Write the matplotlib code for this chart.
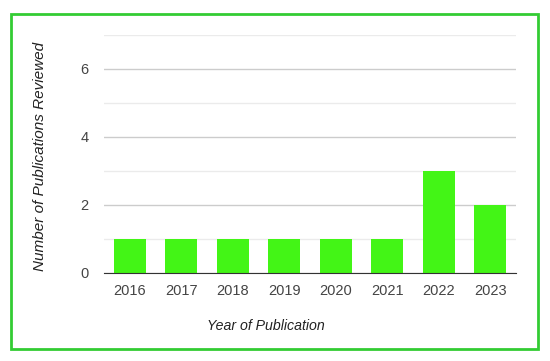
import matplotlib.pyplot as plt
from matplotlib.patches import Rectangle

years = ['2016', '2017', '2018', '2019', '2020', '2021', '2022', '2023']
counts = [1, 1, 1, 1, 1, 1, 3, 2]

plt.rcParams['font.family'] = ['Liberation Sans', 'DejaVu Sans']

fig = plt.figure(figsize=(5.5, 3.61), dpi=100)
ax = fig.add_axes([104/550, 1 - 273/361, 412/550, 238/361])

ax.bar(range(len(years)), counts, width=0.62, color='#43f516', zorder=3)
ax.set_xlim(-0.5, len(years) - 0.5)
ax.set_ylim(0, 7)
ax.set_yticks([0, 2, 4, 6])
ax.set_yticks([1, 3, 5, 7], minor=True)
ax.set_xticks(range(len(years)))
ax.set_xticklabels(years)

ax.grid(axis='y', which='major', color='#cccccc', linewidth=1, zorder=0)
ax.grid(axis='y', which='minor', color='#ebebeb', linewidth=1, zorder=0)
for s in ['top', 'right', 'left']:
    ax.spines[s].set_visible(False)
ax.spines['bottom'].set_color('#333333')
ax.spines['bottom'].set_zorder(4)
ax.tick_params(axis='both', which='both', length=0, labelsize=10.5, colors='#444444')
ax.tick_params(axis='y', pad=11)
ax.tick_params(axis='x', pad=8)

fig.text(266/550, 1 - 326/361, 'Year of Publication', ha='center', va='center',
         style='italic', fontsize=10.2, color='#222222')
fig.text(40/550, 1 - 156/361, 'Number of Publications Reviewed', ha='center', va='center',
         rotation=90, style='italic', fontsize=11, color='#222222')

fig.patches.append(Rectangle((11/550, 1 - 349/361), 527/550, 335/361, transform=fig.transFigure,
                             fill=False, edgecolor='#33cc33', linewidth=2))

fig.savefig('out.png', dpi=100)
